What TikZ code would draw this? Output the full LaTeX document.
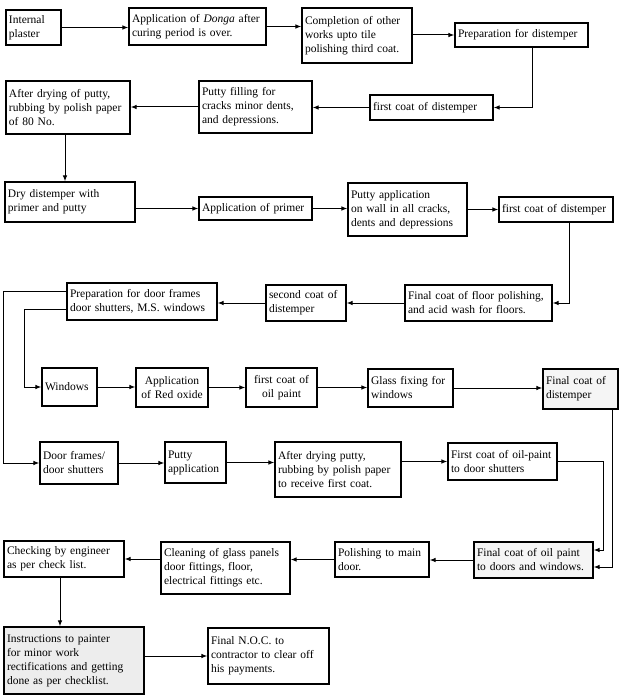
\documentclass[tikz,border=0pt]{standalone}
\usepackage{fontspec}
\setmainfont{Liberation Serif}
\usetikzlibrary{arrows.meta}
\tikzset{
  box/.style={draw, line width=1.1pt, rectangle, align=left, inner xsep=3pt, inner ysep=1pt,
    font=\fontsize{11.5}{14}\selectfont},
  arr/.style={line width=1pt, -{Latex[length=6pt,width=4.5pt]}},
  shade1/.style={fill=gray!14},
  shade2/.style={fill=gray!8}
}
\newcommand\mybox[7][]{%
  \pgfmathsetmacro\myCX{(#3+#5)/2}\pgfmathsetmacro\myCY{(#4+#6)/2}%
  \pgfmathsetmacro\myW{#5-#3}\pgfmathsetmacro\myH{#6-#4}\pgfmathsetmacro\myTW{#5-#3-6}%
  \node[box, minimum width=\myW pt, minimum height=\myH pt, text width=\myTW pt, #1] (#2) at (\myCX,\myCY) {#7};}
\begin{document}
\begin{tikzpicture}[x=1pt,y=-1pt]
\useasboundingbox (0,0) rectangle (620,700);
% row 1
\mybox{B1}{6}{10}{61}{45}{Internal\\plaster}
\mybox{B2}{129}{8}{266}{45}{Application of \textit{Donga} after\\curing period is over.}
\mybox{B3}{302}{8}{412}{63}{Completion of other\\works upto tile\\polishing third coat.}
\mybox{B4}{455}{23}{588}{47}{Preparation for distemper}
% row 2
\mybox{B5}{6}{81}{130}{134}{After drying of putty,\\rubbing by polish paper\\of 80 No.}
\mybox{B6}{199}{81}{312}{133}{Putty filling for\\cracks minor dents,\\and depressions.}
\mybox{B7}{370}{95}{493}{120}{first coat of distemper}
% row 3
\mybox{B8}{5}{182}{135}{222}{Dry distemper with\\primer and putty}
\mybox{B9}{199}{197}{312}{220}{Application of primer}
\mybox{B10}{348}{183}{467}{236}{Putty application\\on wall in all cracks,\\dents and depressions}
\mybox{B11}{499}{197}{613}{222}{first coat of distemper}
% row 4
\mybox{B12}{405}{285}{552}{321}{Final coat of floor polishing,\\and acid wash for floors.}
\mybox{B13}{266}{285}{346}{321}{second coat of\\distemper}
\mybox{B14}{67}{283}{217}{320}{Preparation for door frames\\door shutters, M.S. windows}
% row 5
\mybox{B15}{42}{368}{97}{406}{Windows}
\mybox[align=center]{B16}{136}{368}{208}{407}{Application\\of Red oxide}
\mybox[align=center]{B17}{246}{368}{317}{407}{first coat of\\oil paint}
\mybox{B18}{368}{369}{453}{407}{Glass fixing for\\windows}
\mybox[shade2]{B19}{543}{369}{618}{409}{Final coat of\\distemper}
% row 6
\mybox{B20}{40}{442}{118}{484}{Door frames/\\door shutters}
\mybox{B21}{165}{442}{226}{483}{Putty\\application}
\mybox{B22}{275}{442}{401}{497}{After drying putty,\\rubbing by polish paper\\to receive first coat.}
\mybox{B23}{448}{443}{557}{480}{First coat of oil-paint\\to door shutters}
% row 7
\mybox[shade2]{B24}{474}{542}{593}{578}{Final coat of oil paint\\to doors and windows.}
\mybox{B25}{335}{542}{429}{577}{Polishing to main\\door.}
\mybox{B26}{161}{542}{290}{594}{Cleaning of glass panels\\door fittings, floor,\\electrical fittings etc.}
\mybox{B27}{4}{541}{124}{577}{Checking by engineer\\as per check list.}
% row 8
\mybox[shade1]{B28}{4}{627}{144}{694}{Instructions to painter\\for minor work\\rectifications and getting\\done as per checklist.}
\mybox{B29}{208}{628}{329}{684}{Final N.O.C. to\\contractor to clear off\\his payments.}
% connectors
\draw[arr] (B1.east) -- (B2.west |- B1.east);
\draw[arr] (B2.east) -- (B3.west |- B2.east);
\draw[arr] (B3.east |- B4.west) -- (B4.west);
\draw[arr] ([xshift=10.5pt]B4.south) |- (B7.east);
\draw[arr] (B7.west) -- (B6.east |- B7.west);
\draw[arr] (B6.west) -- (B5.east |- B6.west);
\draw[arr] ([xshift=-3pt]B5.south) -- ([xshift=-3pt]B5.south |- B8.north);
\draw[arr] (B8.east |- B9.west) -- (B9.west);
\draw[arr] (B9.east) -- (B10.west |- B9.east);
\draw[arr] (B10.east |- B11.west) -- (B11.west);
\draw[arr] ([xshift=13pt]B11.south) |- (B12.east);
\draw[arr] (B12.west) -- (B13.east |- B12.west);
\draw[arr] (B13.west) -- (B14.east |- B13.west);
\draw[arr] ([yshift=10.5pt]B14.west) -- ++(-63,0) |- (B20.west);
\draw[arr] ([yshift=-7.5pt]B14.west) -- ++(-42,0) |- (B15.west);
\draw[arr] (B15.east) -- (B16.west |- B15.east);
\draw[arr] (B16.east) -- (B17.west |- B16.east);
\draw[arr] (B17.east) -- (B18.west |- B17.east);
\draw[arr] (B18.east) -- (B19.west |- B18.east);
\draw[arr] ([xshift=31.5pt]B19.south) |- ([yshift=-7pt]B24.east);
\draw[arr] (B20.east) -- (B21.west |- B20.east);
\draw[arr] (B21.east) -- (B22.west |- B21.east);
\draw[arr] (B22.east |- B23.west) -- (B23.west);
\draw[arr] (B23.east) -- ++(46,0) |- ([yshift=10pt]B24.east);
\draw[arr] (B24.west) -- (B25.east |- B24.west);
\draw[arr] (B25.west) -- (B26.east |- B25.west);
\draw[arr] (B26.west |- B27.east) -- (B27.east);
\draw[arr] ([xshift=-4pt]B27.south) -- ([xshift=-4pt]B27.south |- B28.north);
\draw[arr] (B28.east |- B29.west) -- (B29.west);
\end{tikzpicture}
\end{document}
